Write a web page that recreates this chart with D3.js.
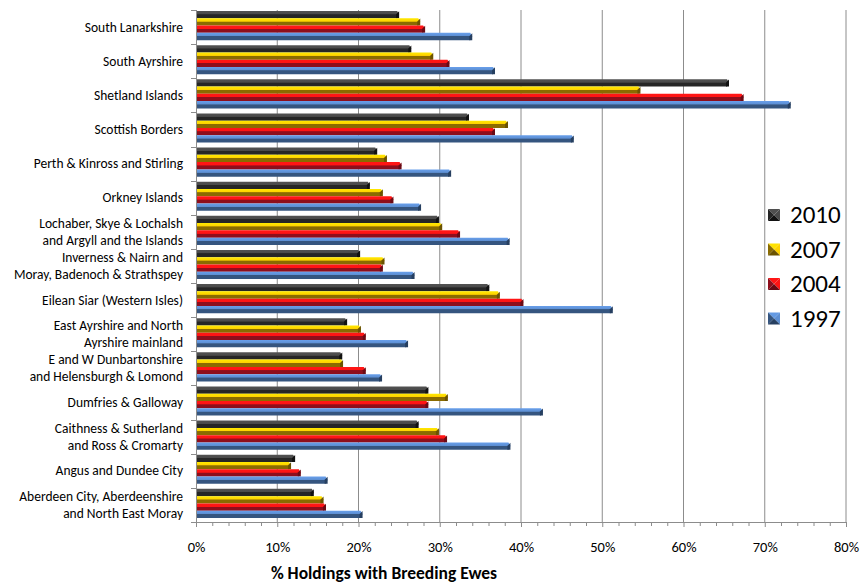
<!DOCTYPE html>
<html><head><meta charset="utf-8">
<script src="https://cdn.jsdelivr.net/npm/d3@7"></script>
<style>body{margin:0;background:#fff} svg text{font-family:Carlito, Calibri, Lato, "Open Sans", sans-serif; fill:#000}</style>
</head><body><svg id="c" width="862" height="583"></svg>
<script>
// categories, top to bottom as drawn
const categories = [
  "South Lanarkshire",
  "South Ayrshire",
  "Shetland Islands",
  "Scottish Borders",
  "Perth & Kinross and Stirling",
  "Orkney Islands",
  "Lochaber, Skye & Lochalsh\nand Argyll and the Islands",
  "Inverness & Nairn and\nMoray, Badenoch & Strathspey",
  "Eilean Siar (Western Isles)",
  "East Ayrshire and North\nAyrshire mainland",
  "E and W Dunbartonshire\nand Helensburgh & Lomond",
  "Dumfries & Galloway",
  "Caithness & Sutherland\nand Ross & Cromarty",
  "Angus and Dundee City",
  "Aberdeen City, Aberdeenshire\nand North East Moray"
];
const years = ["2010", "2007", "2004", "1997"];
const v2010 = [25.0, 26.5, 65.6, 33.6, 22.3, 21.4, 29.9, 20.2, 36.1, 18.6, 18.0, 28.6, 27.4, 12.2, 14.5];
const v2007 = [27.6, 29.2, 54.7, 38.4, 23.5, 23.0, 30.3, 23.2, 37.4, 20.3, 18.1, 31.0, 29.9, 11.7, 15.7];
const v2004 = [28.2, 31.2, 67.4, 36.8, 25.3, 24.3, 32.5, 23.0, 40.3, 20.9, 20.9, 28.6, 30.9, 12.9, 16.0];
const v1997 = [34.0, 36.8, 73.2, 46.5, 31.4, 27.7, 38.6, 26.9, 51.3, 26.1, 22.9, 42.7, 38.7, 16.2, 20.5];
const xTicks = [0, 10, 20, 30, 40, 50, 60, 70, 80];
const xTitle = "% Holdings with Breeding Ewes";

const seriesValues = [v2010, v2007, v2004, v1997];
const palette = {
  "2010": {light: "#4a4a4a", dark: "#262626", edge: "#111"},
  "2007": {light: "#ffd200", dark: "#8a6b00", edge: "#6b5300"},
  "2004": {light: "#ff1414", dark: "#8e0e1c", edge: "#6a0a14"},
  "1997": {light: "#5d8fd3", dark: "#35557f", edge: "#263f60"}
};

const svg = d3.select("#c");
const pL = 196, pR = 846, pT = 10, pB = 522;
const x = d3.scaleLinear().domain([0, 80]).range([pL, pR]);
const y = d3.scaleBand().domain(categories).range([pT, pB]);
const bw = y.bandwidth();
const yi = d3.scaleBand().domain(years).range([1, bw - 4]);

// gradients
const defs = svg.append("defs");
years.forEach(yr => {
  const g = defs.append("linearGradient").attr("id", "g" + yr)
    .attr("x1", 0).attr("y1", 0).attr("x2", 0).attr("y2", 1);
  const p = palette[yr];
  g.append("stop").attr("offset", "0%").attr("stop-color", d3.color(p.light).brighter(0.3));
  g.append("stop").attr("offset", "42%").attr("stop-color", p.light);
  g.append("stop").attr("offset", "50%").attr("stop-color", p.dark);
  g.append("stop").attr("offset", "100%").attr("stop-color", p.dark);
});

// gridlines
svg.append("g").selectAll("line").data(xTicks.filter(d => d > 0)).join("line")
  .attr("x1", d => x(d)).attr("x2", d => x(d))
  .attr("y1", pT).attr("y2", pB)
  .attr("stroke", "#8c8c8c").attr("stroke-width", 1);

// bars
const data = [];
categories.forEach((c, i) => years.forEach((yr, j) => data.push({c, yr, v: seriesValues[j][i]})));
const bars = svg.append("g").selectAll("g").data(data).join("g")
  .attr("transform", d => `translate(0,${y(d.c) + yi(d.yr)})`);
const h = yi.bandwidth();
bars.append("path")
  .attr("d", d => {
    const x0 = x(0), x1 = x(d.v);
    return `M${x0},0 L${x1 - 2},0 L${x1},${h * 0.45} L${x1 - 2},${h} L${x0},${h} Z`;
  })
  .attr("fill", d => `url(#g${d.yr})`);
bars.append("path")
  .attr("d", d => {
    const x1 = x(d.v);
    return `M${x1 - 3},${h * 0.45} L${x1},${h * 0.45 - 3} L${x1},${h} L${x1 - 3},${h} Z`;
  })
  .attr("fill", d => palette[d.yr].edge);

// y axis line & ticks
svg.append("line").attr("x1", pL + 0.5).attr("x2", pL + 0.5).attr("y1", pT).attr("y2", pB)
  .attr("stroke", "#8c8c8c");
const yTickPos = categories.map(c => y(c)).concat([pB]);
svg.append("g").selectAll("line").data(yTickPos).join("line")
  .attr("x1", pL - 5).attr("x2", pL).attr("y1", d => Math.round(d) + 0.5).attr("y2", d => Math.round(d) + 0.5)
  .attr("stroke", "#8c8c8c");

// y labels
const lab = svg.append("g").selectAll("text").data(categories).join("text")
  .attr("x", 183).attr("text-anchor", "end").style("font-size", "13.5px")
  .attr("y", d => y(d) + bw / 2);
lab.each(function(d) {
  const lines = d.split("\n");
  const t = d3.select(this);
  lines.forEach((ln, k) => {
    t.append("tspan").attr("x", 183)
      .attr("dy", k === 0 ? ((-(lines.length - 1) * 17) / 2 + 4.5) : 17)
      .text(ln);
  });
});

// x axis
const xAxis = d3.axisBottom(x).tickValues(xTicks).tickFormat(d => d + "%").tickSize(5).tickPadding(15);
const ax = svg.append("g").attr("transform", `translate(0,${pB})`).call(xAxis);
ax.select(".domain").attr("stroke", "#8c8c8c");
ax.selectAll(".tick line").attr("stroke", "#8c8c8c");
ax.selectAll("text").style("font-size", "14.5px").style("font-family", "Carlito, Calibri, Lato, sans-serif");
const minor = d3.range(0, 81, 2).filter(d => d % 10 !== 0);
svg.append("g").selectAll("line").data(minor).join("line")
  .attr("x1", d => x(d) + 0.5).attr("x2", d => x(d) + 0.5).attr("y1", pB).attr("y2", pB + 4)
  .attr("stroke", "#8c8c8c");

svg.append("text").attr("x", 384).attr("y", 579).attr("text-anchor", "middle")
  .style("font-size", "17.5px").style("font-weight", "bold").text(xTitle);

// legend
const lg = svg.append("g").selectAll("g").data(years).join("g")
  .attr("transform", (d, i) => `translate(768,${209 + i * 34.5})`);
const s = 12;
const shade = (c, k) => d3.color(c).brighter(k).formatHex();
lg.append("path").attr("d", `M0,0 L${s},0 L${s/2},${s/2} Z`).attr("fill", d => shade(palette[d].light, 0.2));
lg.append("path").attr("d", `M0,0 L${s/2},${s/2} L0,${s} Z`).attr("fill", d => palette[d].dark);
lg.append("path").attr("d", `M${s},0 L${s},${s} L${s/2},${s/2} Z`).attr("fill", d => palette[d].light);
lg.append("path").attr("d", `M0,${s} L${s/2},${s/2} L${s},${s} Z`).attr("fill", d => palette[d].edge);
lg.append("text").attr("x", 22).attr("y", 14).style("font-size", "25px").text(d => d);
</script></body></html>
